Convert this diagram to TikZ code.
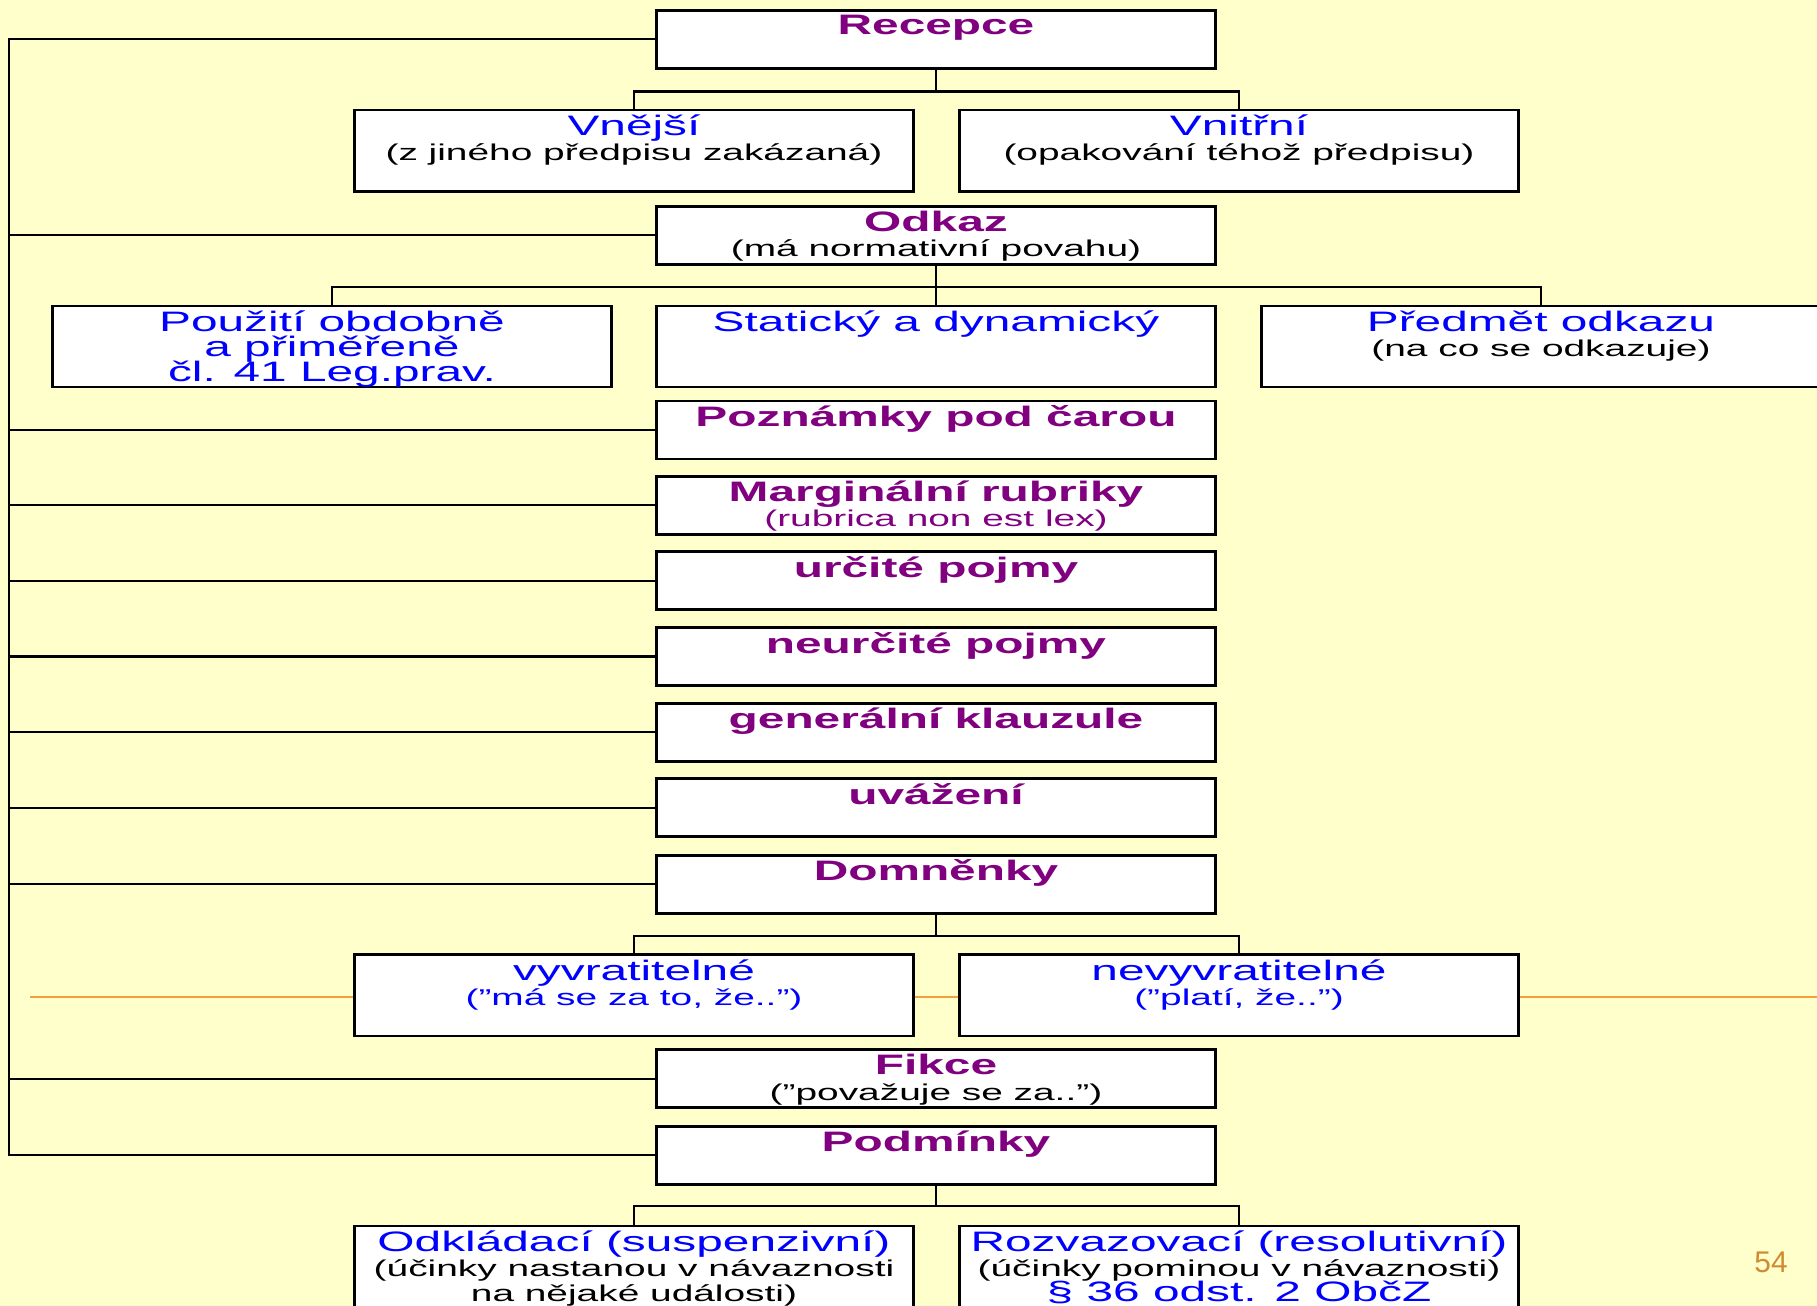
\documentclass[tikz,border=0pt]{standalone}
\usepackage{fontspec}
\setmainfont{Liberation Sans}[FakeStretch=1.7]
\newfontfamily\numfont{Liberation Sans}
\usepackage{xcolor}
\usetikzlibrary{positioning,calc}
\definecolor{bgyellow}{HTML}{FFFFCC}
\definecolor{ttlpurple}{HTML}{800080}
\definecolor{ttlblue}{HTML}{0000FF}
\definecolor{lineorange}{HTML}{F5A040}
\definecolor{numorange}{HTML}{D08A30}
\newcommand{\bigfont}{\fontsize{8}{7.2}\selectfont}
\newcommand{\smallfont}{\fontsize{6.5}{7.2}\selectfont}
\lineskiplimit=-100pt

\begin{document}
\begin{tikzpicture}[x=0.01cm, y=-0.01cm]
	\tikzstyle{box} = [draw = black, fill = white, line width = 0.8pt, minimum width = 5.58cm, minimum height = 0.58cm, inner sep = 0pt]
	\tikzstyle{tallbox} = [box, minimum height = 0.81cm]
	\tikzstyle{txt} = [anchor = north, align = center, inner sep = 1.5pt, font = \bigfont]
	\tikzstyle{purp} = [txt, font = \bigfont\bfseries, text = ttlpurple]
	\tikzstyle{link} = [draw = black, line width = 0.6pt]
\fill[bgyellow] (0,0) rectangle (1817,1306);
\useasboundingbox (0,0) rectangle (1817,1306);
% orange guide line
\coordinate (ol) at (30, 996.6);
\coordinate (or) at (1817, 996.6);
	\path[draw = lineorange, line width = 0.6pt] (ol) -- (or);
% boxes
\node[box] (rec) at (936, 39.4) {};
\node[tallbox] (vne) at (634, 150.6) {};
\node[tallbox] (vni) at (1239, 150.6) {};
\node[box] (odk) at (936, 235.2) {};
\node[tallbox] (pou) at (332, 346.5) {};
\node[tallbox] (sta) at (936, 346.5) {};
\node[tallbox] (pre) at (1541, 346.5) {};
\node[box] (poz) at (936, 430) {};
\node[box] (mar) at (936, 505.2) {};
\node[box] (urc) at (936, 580.6) {};
\node[box] (neu) at (936, 656.5) {};
\node[box] (gen) at (936, 732.4) {};
\node[box] (uva) at (936, 807.7) {};
\node[box] (dom) at (936, 884.2) {};
\node[tallbox] (vyv) at (634, 995.4) {};
\node[tallbox] (nev) at (1239, 995.4) {};
\node[box] (fik) at (936, 1078.8) {};
\node[box] (pod) at (936, 1155.3) {};
\node[tallbox] (odl) at (634, 1266.5) {};
\node[tallbox] (roz) at (1239, 1266.5) {};
% texts
\node[purp] (recT) at (rec.north) {Recepce};
\node[txt] (vneT) at (vne.north) {\textcolor{ttlblue}{Vnější}\\{\smallfont (z jiného předpisu zakázaná)}};
\node[txt] (vniT) at (vni.north) {\textcolor{ttlblue}{Vnitřní}\\{\smallfont (opakování téhož předpisu)}};
\node[txt] (odkT) at (odk.north) {\textcolor{ttlpurple}{\bfseries Odkaz}\\{\smallfont (má normativní povahu)}};
\node[txt, text = ttlblue] (pouT) at (pou.north) {Použití obdobně\\a přiměřeně\\čl. 41 Leg.prav.};
\node[txt, text = ttlblue] (staT) at (sta.north) {Statický a dynamický};
\node[txt] (preT) at (pre.north) {\textcolor{ttlblue}{Předmět odkazu}\\{\smallfont (na co se odkazuje)}};
\node[purp] (pozT) at (poz.north) {Poznámky pod čarou};
\node[txt, text = ttlpurple] (marT) at (mar.north) {\textbf{Marginální rubriky}\\{\smallfont (rubrica non est lex)}};
\node[purp] (urcT) at (urc.north) {určité pojmy};
\node[purp] (neuT) at (neu.north) {neurčité pojmy};
\node[purp] (genT) at (gen.north) {generální klauzule};
\node[purp] (uvaT) at (uva.north) {uvážení};
\node[purp] (domT) at (dom.north) {Domněnky};
\node[txt, text = ttlblue] (vyvT) at (vyv.north) {vyvratitelné\\{\smallfont ("má se za to, že..")}};
\node[txt, text = ttlblue] (nevT) at (nev.north) {nevyvratitelné\\{\smallfont ("platí, že..")}};
\node[txt] (fikT) at (fik.north) {\textcolor{ttlpurple}{\bfseries Fikce}\\{\smallfont ("považuje se za..")}};
\node[purp] (podT) at (pod.north) {Podmínky};
\node[txt] (odlT) at (odl.north) {\textcolor{ttlblue}{Odkládací (suspenzivní)}\\{\smallfont (účinky nastanou v návaznosti}\\{\smallfont na nějaké události)}};
\node[txt] (rozT) at (roz.north) {\textcolor{ttlblue}{Rozvazovací (resolutivní)}\\{\smallfont (účinky pominou v návaznosti)}\\\textcolor{ttlblue}{§ 36 odst. 2 ObčZ}};
\node[anchor = center, text = numorange, font = \numfont\fontsize{8.5}{10}\selectfont] (num) at (1771, 1262) {54};
% left trunk
\coordinate (trtop) at (9, 39.4);
\coordinate (trbot) at (9, 1155.3);
	\path[link] (rec.west) -- (trtop) -- (trbot) -- (pod.west);
\foreach \n in {odk, poz, mar, urc, neu, gen, uva, dom, fik}
	\path[link] (\n.west) -- (\n.west -| trtop);
% branches
\coordinate (j1) at (936, 91.5);
\coordinate (j2) at (936, 287.4);
\coordinate (j3) at (936, 936.3);
\coordinate (j4) at (936, 1206.3);
	\path[link] (rec.south) -- (j1);
	\path[link] (vne.north) |- (j1) -| (vni.north);
	\path[link] (odk.south) -- (j2);
	\path[link] (pou.north) |- (j2) -| (pre.north);
	\path[link] (j2) -- (sta.north);
	\path[link] (dom.south) -- (j3);
	\path[link] (vyv.north) |- (j3) -| (nev.north);
	\path[link] (pod.south) -- (j4);
	\path[link] (odl.north) |- (j4) -| (roz.north);
\end{tikzpicture}
\end{document}
